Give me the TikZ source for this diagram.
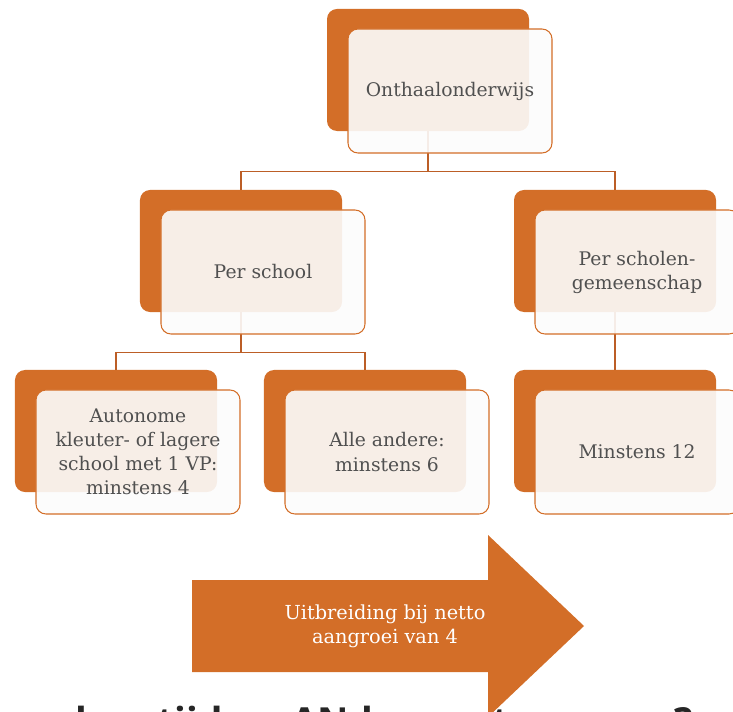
\documentclass[tikz,border=0pt]{standalone}
\usepackage{fontspec}
\setmainfont{DejaVu Serif}
\newfontfamily\headfont{Open Sans}
\usetikzlibrary{positioning}
\definecolor{kleurorange}{HTML}{D36E28}
\definecolor{kleurline}{HTML}{BC5E26}
\definecolor{kleurtext}{HTML}{505050}
\definecolor{kleurhead}{HTML}{262626}

\begin{document}
\begin{tikzpicture}[x=0.03cm, y=-0.03cm,
  back/.style={fill=kleurorange, rounded corners=0.3cm, minimum width=6.06cm, minimum height=3.66cm, inner sep=0pt},
  front/.style={draw=kleurorange, line width=0.9pt, fill=white!99!black, fill opacity=0.9, text opacity=1, rounded corners=0.3cm, minimum width=6.12cm, minimum height=3.72cm, xshift=0.66cm, yshift=-0.63cm, align=center, text=kleurtext, font=\fontsize{16}{20.5}\selectfont},
  link/.style={draw=kleurline, line width=1.1pt}]
  \useasboundingbox (0,0) rectangle (733,712);

  % achterste vakken
  \node[back] (top) at (428,70) {};
  \node[back] (school) at (241,251) {};
  \node[back] (group) at (615,251) {};
  \node[back] (auto) at (116,431) {};
  \node[back] (rest) at (365,431) {};
  \node[back] (twelve) at (615,431) {};

  % verbindingen
  \draw[link] (top.south) -- ++(0,40) -| (school.north);
  \draw[link] (top.south) -- ++(0,40) -| (group.north);
  \draw[link] (school.south) -- ++(0,40) -| (auto.north);
  \draw[link] (school.south) -- ++(0,40) -| (rest.north);
  \draw[link] (group.south) -- (twelve.north);

  % voorste vakken
  \node[front] (topf) at (top) {Onthaalonderwijs};
  \node[front] (schoolf) at (school) {Per school};
  \node[front] (groupf) at (group) {Per scholen-\\gemeenschap};
  \node[front] (autof) at (auto) {Autonome\\kleuter- of lagere\\school met 1 VP:\\minstens 4};
  \node[front] (restf) at (rest) {Alle andere:\\minstens 6};
  \node[front] (twelvef) at (twelve) {Minstens 12};

  \node[anchor=base west, inner sep=0pt, text=kleurhead, font=\headfont\bfseries\fontsize{33}{40}\selectfont] (vraag) at (19,735) {wel nu tijd en AN-lessen te vragen?};

  % pijl
  \fill[kleurorange] (192,580) -- (488,580) -- (488,535) -- (584,626) -- (488,717) -- (488,672) -- (192,672) -- cycle;
  \node[align=center, text=white, font=\fontsize{16.5}{20.5}\selectfont] (grow) at (385,626) {Uitbreiding bij netto\\aangroei van 4};
\end{tikzpicture}
\end{document}
